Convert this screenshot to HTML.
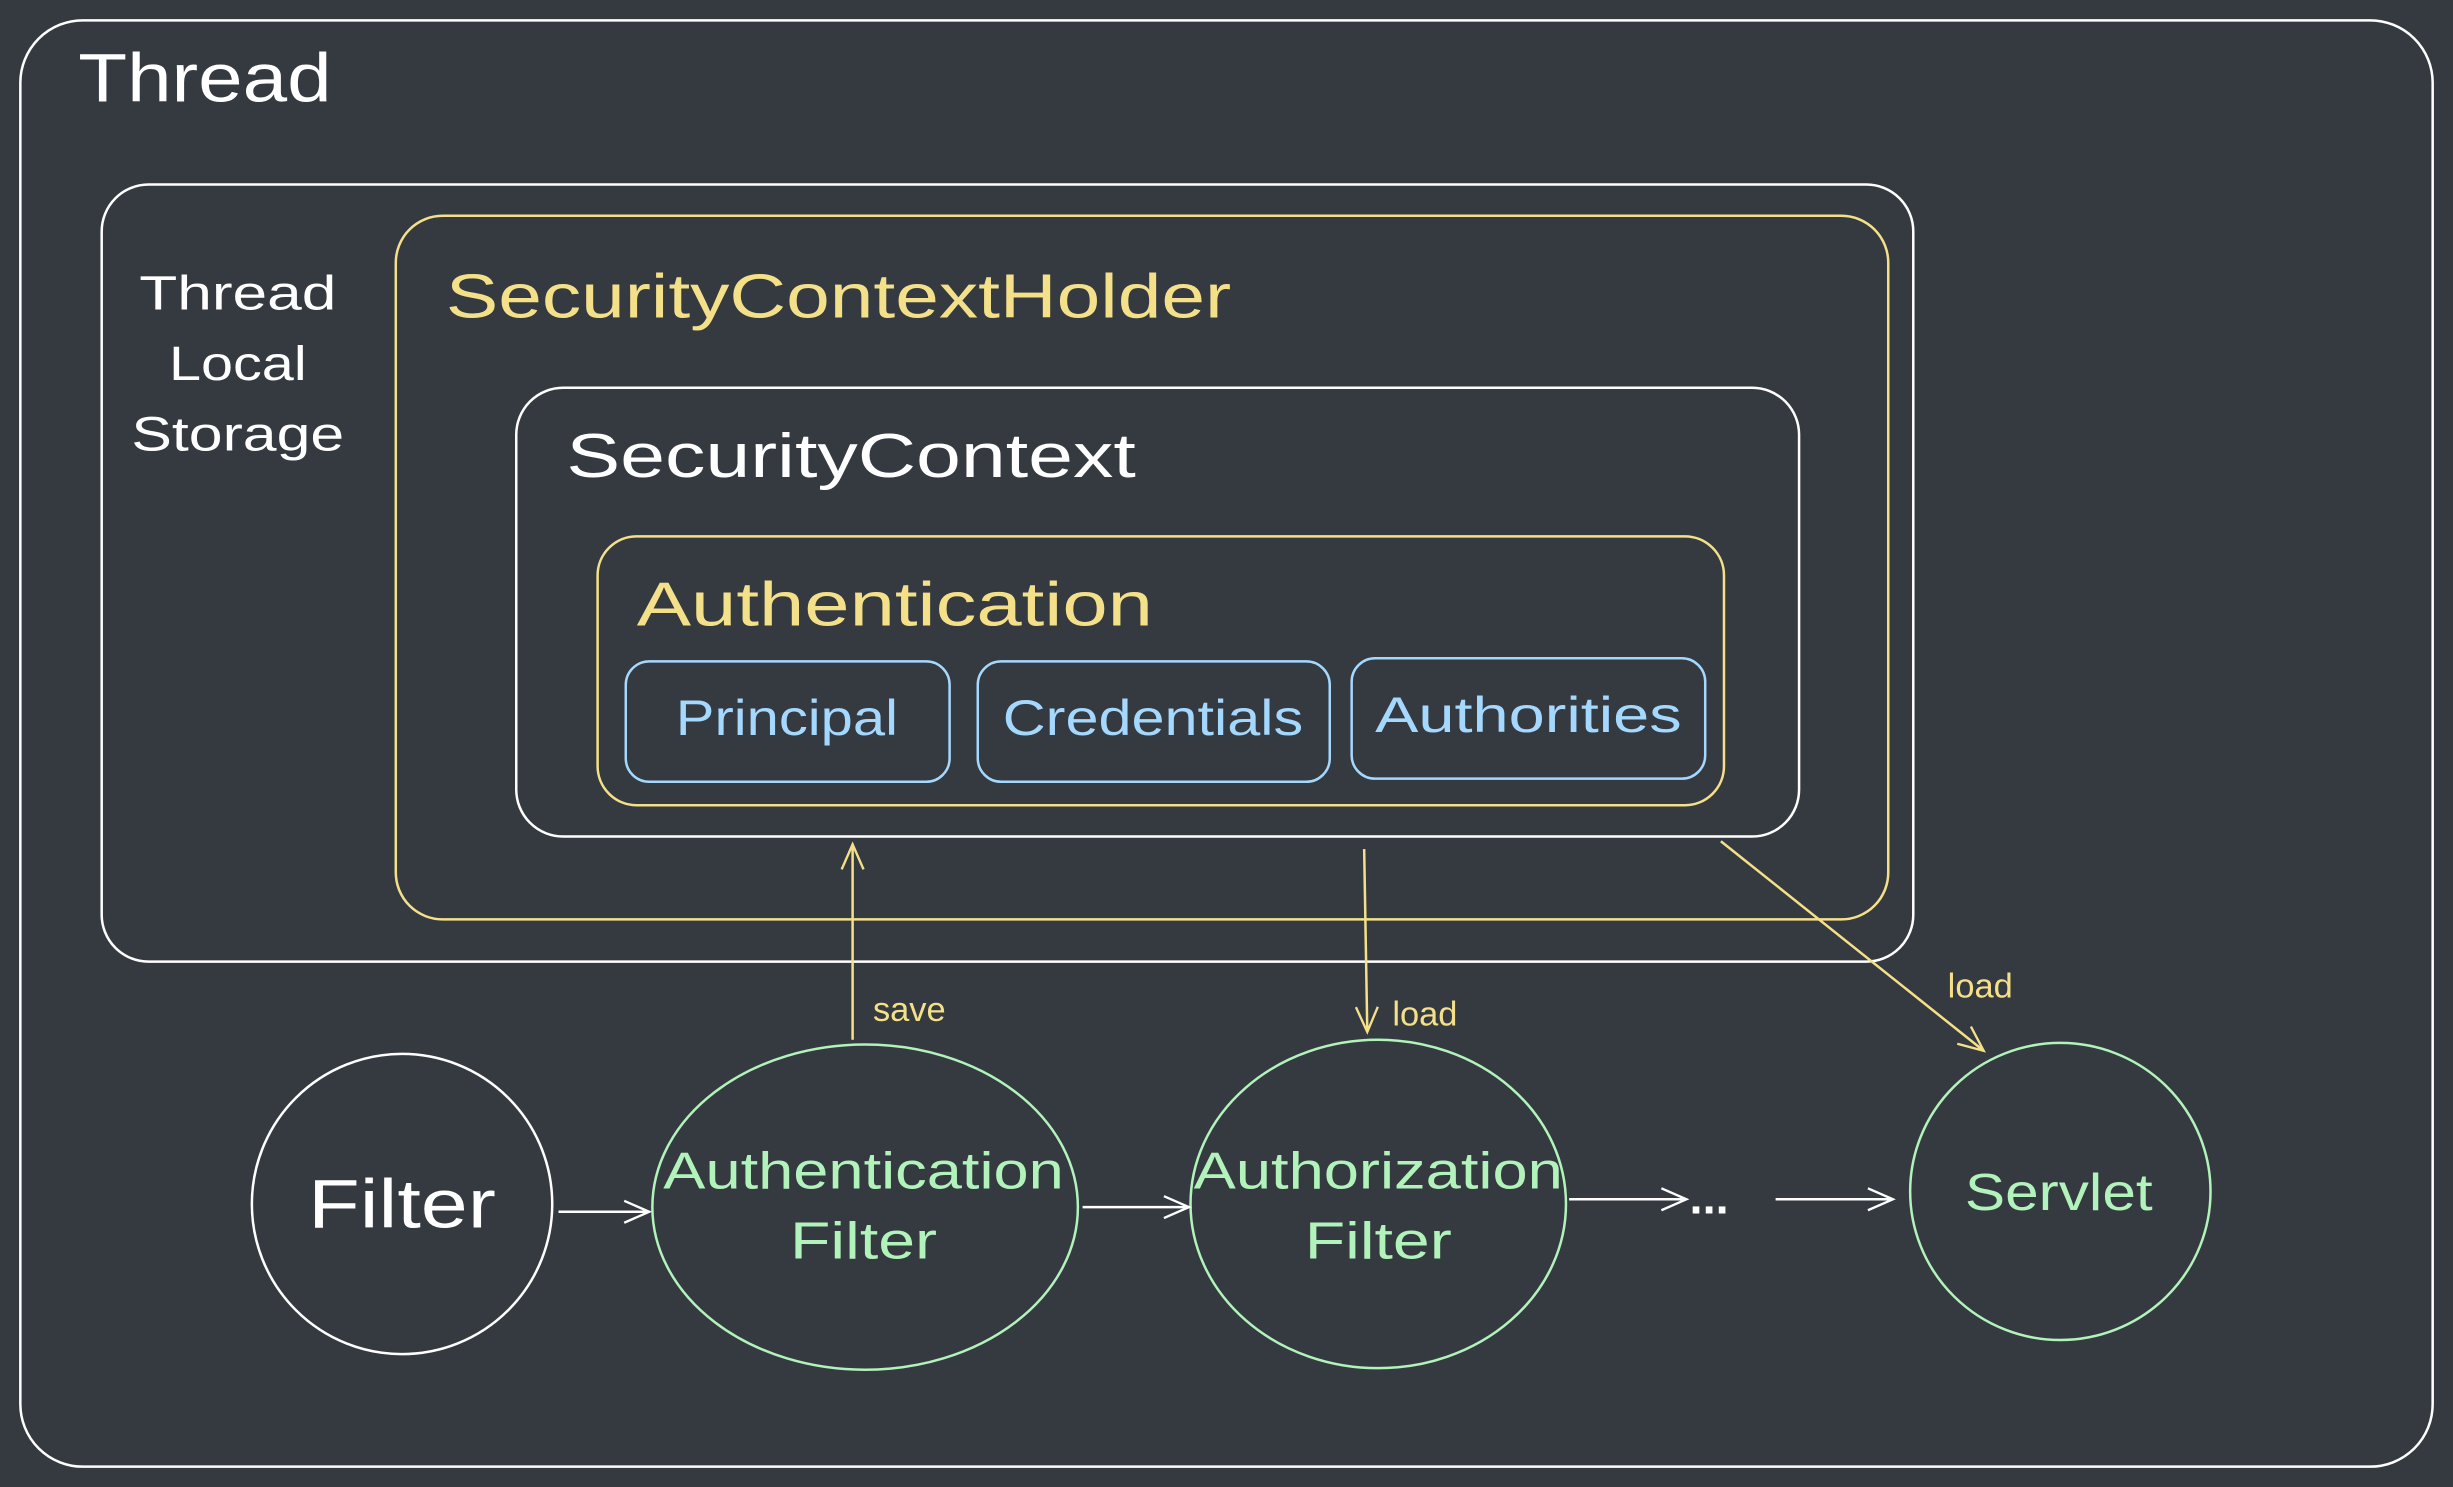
<!DOCTYPE html>
<html><head><meta charset="utf-8"><style>
html,body{margin:0;padding:0;background:#343a40;}
svg{display:block}
text{font-family:"Liberation Sans",sans-serif;}
</style></head><body>
<svg width="2453" height="1487" viewBox="0 0 1568 951" preserveAspectRatio="none" xmlns="http://www.w3.org/2000/svg">
<defs>
<marker id="aw" viewBox="0 0 20 20" refX="18" refY="10" markerWidth="20" markerHeight="20" markerUnits="userSpaceOnUse" orient="auto"><path d="M2,3 L18,10 L2,17" fill="none" stroke="#fff" stroke-width="1.5"/></marker>
<marker id="ay" viewBox="0 0 20 20" refX="18" refY="10" markerWidth="20" markerHeight="20" markerUnits="userSpaceOnUse" orient="auto"><path d="M2,3 L18,10 L2,17" fill="none" stroke="#f5e08a" stroke-width="1.5"/></marker>
</defs>
<rect width="1568" height="951" fill="#343a40"/>
<g fill="none" stroke-width="1.6">
<rect x="13" y="13" width="1542" height="925" rx="40" stroke="#fff"/>
<rect x="65" y="118" width="1158" height="497" rx="30" stroke="#fff"/>
<rect x="253" y="138" width="954" height="450" rx="30" stroke="#f5e08a"/>
<rect x="330" y="248" width="820" height="287" rx="30" stroke="#fff"/>
<rect x="382" y="343" width="720" height="172" rx="25" stroke="#f5e08a"/>
<rect x="400" y="423" width="207" height="77" rx="15" stroke="#a5d8ff"/>
<rect x="625" y="423" width="225" height="77" rx="15" stroke="#a5d8ff"/>
<rect x="864" y="421" width="226" height="77" rx="15" stroke="#a5d8ff"/>
<ellipse cx="257" cy="770" rx="96" ry="96" stroke="#fff"/>
<ellipse cx="553" cy="772" rx="136" ry="104" stroke="#b2f2bb"/>
<ellipse cx="881" cy="770" rx="120" ry="105" stroke="#b2f2bb"/>
<ellipse cx="1317" cy="762" rx="96" ry="95" stroke="#b2f2bb"/>
<line x1="357" y1="775" x2="415" y2="775" stroke="#fff" marker-end="url(#aw)"/>
<line x1="692" y1="772" x2="760" y2="772" stroke="#fff" marker-end="url(#aw)"/>
<line x1="1003" y1="767" x2="1078" y2="767" stroke="#fff" marker-end="url(#aw)"/>
<line x1="1135" y1="767" x2="1210" y2="767" stroke="#fff" marker-end="url(#aw)"/>
<line x1="545" y1="665" x2="545" y2="540" stroke="#f5e08a" marker-end="url(#ay)"/>
<line x1="872" y1="543" x2="874" y2="660" stroke="#f5e08a" marker-end="url(#ay)"/>
<line x1="1100" y1="538" x2="1268" y2="672" stroke="#f5e08a" marker-end="url(#ay)"/>
</g>
<text x="50" y="65" font-size="44" fill="#fff" textLength="162" lengthAdjust="spacingAndGlyphs">Thread</text>
<g font-size="31" fill="#fff" text-anchor="middle">
<text x="152" y="198" textLength="126" lengthAdjust="spacingAndGlyphs">Thread</text><text x="152" y="243" textLength="88" lengthAdjust="spacingAndGlyphs">Local</text><text x="152" y="288" textLength="136" lengthAdjust="spacingAndGlyphs">Storage</text>
</g>
<text x="285" y="203" font-size="40" fill="#f5e08a" textLength="502" lengthAdjust="spacingAndGlyphs">SecurityContextHolder</text>
<text x="362" y="305" font-size="40" fill="#fff" textLength="364" lengthAdjust="spacingAndGlyphs">SecurityContext</text>
<text x="407" y="400" font-size="40" fill="#f5e08a" textLength="330" lengthAdjust="spacingAndGlyphs">Authentication</text>
<g font-size="32" fill="#a5d8ff" text-anchor="middle">
<text x="503" y="470" textLength="142" lengthAdjust="spacingAndGlyphs">Principal</text><text x="737" y="470" textLength="192" lengthAdjust="spacingAndGlyphs">Credentials</text><text x="977" y="468" textLength="196" lengthAdjust="spacingAndGlyphs">Authorities</text>
</g>
<text x="257" y="785" font-size="44" fill="#fff" text-anchor="middle" textLength="120" lengthAdjust="spacingAndGlyphs">Filter</text>
<g font-size="33" fill="#b2f2bb" text-anchor="middle">
<text x="552" y="760" textLength="256" lengthAdjust="spacingAndGlyphs">Authentication</text><text x="552" y="805" textLength="94" lengthAdjust="spacingAndGlyphs">Filter</text>
<text x="881" y="760" textLength="236" lengthAdjust="spacingAndGlyphs">Authorization</text><text x="881" y="805" textLength="94" lengthAdjust="spacingAndGlyphs">Filter</text>
<text x="1316" y="774" textLength="120" lengthAdjust="spacingAndGlyphs">Servlet</text>
</g>
<text x="1080" y="776" font-size="30" fill="#fff" font-weight="bold">...</text>
<g font-size="22" fill="#f5e08a">
<text x="558" y="653">save</text><text x="890" y="656">load</text><text x="1245" y="638">load</text>
</g>
</svg>
</body></html>
